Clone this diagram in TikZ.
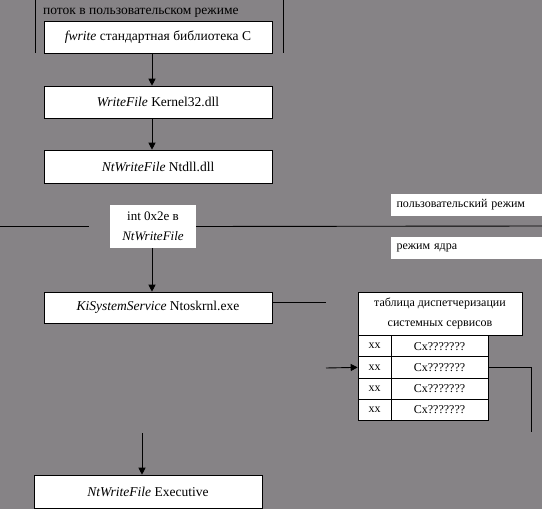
\documentclass[tikz,border=0pt]{standalone}
\usepackage{fontspec}
\setmainfont{Liberation Serif}
\usetikzlibrary{arrows.meta,positioning,calc}
\definecolor{Slate}{HTML}{868386}
\definecolor{Ink}{HTML}{000000}
\definecolor{Paper}{HTML}{FFFFFF}
\tikzset{
  wire/.style={draw=Ink,line width=0.9pt},
  ctl/.style={draw=Ink,line width=0.9pt,-{Triangle[length=7pt,width=7pt]}},
  box/.style={rectangle,draw=Ink,fill=Paper,line width=0.6pt,inner sep=0pt,minimum width=228pt,font=\fontsize{13.5}{15}\selectfont},
  tag/.style={rectangle,fill=Paper,inner sep=0pt,font=\fontsize{12}{14}\selectfont},
  cell/.style={rectangle,draw=Ink,fill=Paper,line width=0.6pt,inner sep=0pt,minimum height=21.25pt,font=\fontsize{12}{14}\selectfont},
  nt/.style={font=\fontsize{13.5}{15}\selectfont,text=Ink,anchor=west,inner sep=0pt},
}
\begin{document}
\begin{tikzpicture}[x=1pt,y=-1pt]
\useasboundingbox (0,0) rectangle (542,509);
\fill[Slate] (0,0) rectangle (542,509);
% User-mode thread frame at the top.
\draw[wire] (35,0) -- (35,53); \draw[wire] (283,0) -- (283,53);
\node[nt] (thr) at (43,13) {поток в пользовательском режиме};
\node[box,minimum height=32pt] (fw) at (158,37) {\textit{fwrite} стандартная библиотека C};
\node[box,minimum height=32pt] (wf) at (158,102) {\textit{WriteFile} Kernel32.dll};
\node[box,minimum height=33pt] (nt) at (158,166.5) {\textit{NtWriteFile} Ntdll.dll};
\draw[ctl] ([xshift=-6pt]fw.south) -- ([xshift=-6pt]wf.north);
\draw[ctl] ([xshift=-6pt]wf.south) -- ([xshift=-6pt]nt.north);
% Mode boundary with the trap.
\node[tag,minimum width=86pt,minimum height=43pt,align=center,font=\fontsize{13}{20}\selectfont] (trap) at (153,226.5) {int 0x2e в\\\textit{NtWriteFile}};
\coordinate (bl) at (0,226); \coordinate (bm) at (89,226); \coordinate (br) at (542,226);
\draw[wire] (bl) -- (bm); \draw[wire] (trap.east) -- (br);
\node[tag,minimum width=151pt,minimum height=22pt,text width=140pt,align=left] (um) at (466.5,205) {пользовательский режим};
\node[tag,minimum width=151pt,minimum height=22pt,text width=140pt,align=left] (km) at (466.5,248) {режим ядра};
% Kernel side.
\node[box,minimum height=31pt] (ki) at (158,307.5) {\textit{KiSystemService} Ntoskrnl.exe};
\draw[ctl] ([xshift=-1pt]trap.south) -- ([xshift=-6pt]ki.north);
\coordinate (kr) at (326,302);
\draw[wire] ([yshift=5.5pt]ki.east) -- (kr);
\node[cell,minimum width=164pt,minimum height=43pt,align=center,font=\fontsize{12}{20}\selectfont] (tbl) at (440,313.5) {таблица диспетчеризации\\системных сервисов};
\foreach \i in {1,...,4}{
  \node[cell,minimum width=33pt] (r\i a) at (374.5,{335.5+10.625+21.25*(\i-1)}) {xx};
  \node[cell,minimum width=97pt] (r\i b) at (439.5,{335.5+10.625+21.25*(\i-1)}) {Cx???????};
}
\draw[line width=1.6pt] (r2b.south west) -- (r2b.south east);
\coordinate (tin) at (326,368); \coordinate (tout) at (531,432);
\draw[ctl] (tin) -- (r2a.west);
\draw[wire] (r2b.east) -| (tout);
\node[box,minimum height=33pt] (ex) at (148,491.5) {\textit{NtWriteFile} Executive};
\coordinate (exin) at (142,433);
\draw[ctl] (exin) -- (exin |- ex.north);
\end{tikzpicture}
\end{document}
